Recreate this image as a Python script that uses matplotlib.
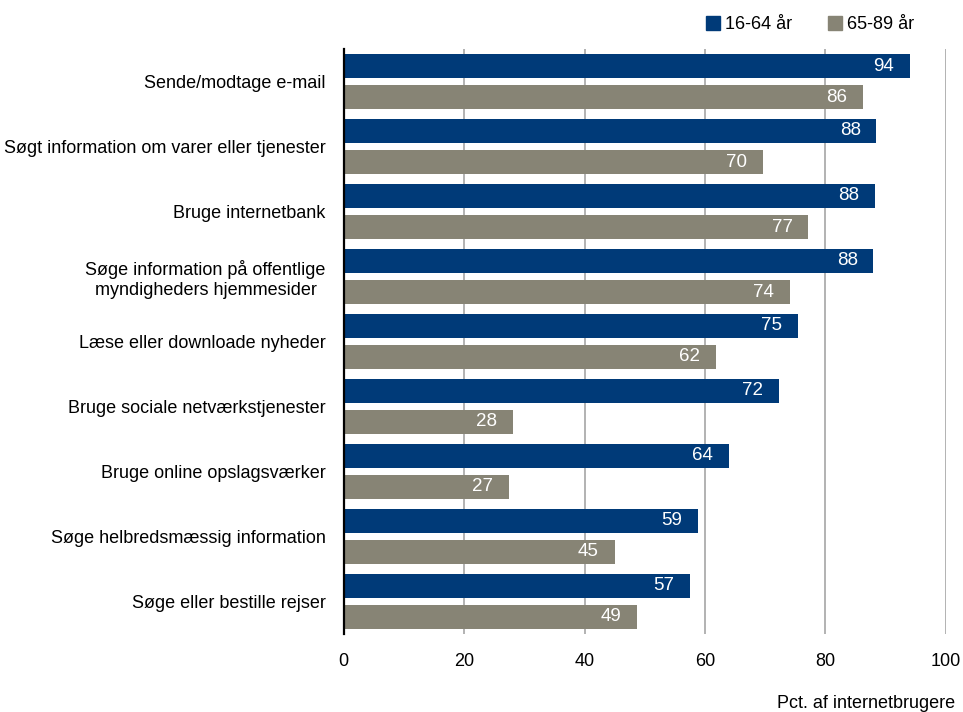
import numpy as np
import matplotlib
matplotlib.use("Agg")
import matplotlib.pyplot as plt
from matplotlib.patches import Patch

categories = [
    "Sende/modtage e-mail",
    "Søgt information om varer eller tjenester",
    "Bruge internetbank",
    "Søge information på offentlige\nmyndigheders hjemmesider",
    "Læse eller downloade nyheder",
    "Bruge sociale netværkstjenester",
    "Bruge online opslagsværker",
    "Søge helbredsmæssig information",
    "Søge eller bestille rejser",
]
young = [94, 88.5, 88.2, 88, 75.4, 72.3, 64, 58.8, 57.5]
old = [86.2, 69.6, 77.2, 74.1, 61.8, 28.1, 27.4, 45, 48.7]
young_labels = ["94", "88", "88", "88", "75", "72", "64", "59", "57"]
old_labels = ["86", "70", "77", "74", "62", "28", "27", "45", "49"]
series_names = ["16-64 år", "65-89 år"]
ticks = [0, 20, 40, 60, 80, 100]

blue = "#003A78"
grey = "#878475"

plt.rcParams['font.family'] = ['Liberation Sans Narrow', 'Liberation Sans', 'DejaVu Sans']

fig = plt.figure(figsize=(9.63, 7.12), dpi=100)
ax = fig.add_axes([0.357, 0.110, 0.625, 0.821])

y = np.arange(len(categories))
h = 0.37
off = 0.24
ax.barh(y - off, young, height=h, color=blue, zorder=3)
ax.barh(y + off, old, height=h, color=grey, zorder=3)

for i in range(len(categories)):
    ax.text(young[i] - 2.6, y[i] - off, young_labels[i], color="white",
            ha="right", va="center", fontsize=13.5, zorder=4)
    ax.text(old[i] - 2.6, y[i] + off, old_labels[i], color="white",
            ha="right", va="center", fontsize=13.5, zorder=4)

ax.set_ylim(len(categories) - 0.5, -0.5)
ax.set_xlim(0, 100)
ax.set_yticks(y)
ax.set_yticklabels(categories, fontsize=13, ha="right", multialignment="center")
ax.set_xticks(ticks)
ax.set_xticklabels([str(t) for t in ticks], fontsize=13)
ax.tick_params(axis="both", length=0)
ax.tick_params(axis="x", pad=14)
ax.tick_params(axis="y", pad=13)

for s in ["top", "right", "bottom"]:
    ax.spines[s].set_visible(False)
ax.spines["left"].set_color("black")
ax.spines["left"].set_linewidth(1.6)
ax.spines["left"].set_zorder(5)

ax.xaxis.grid(True, color="#A6A6A6", linewidth=1.2, zorder=0)
ax.set_axisbelow(True)

handles = [Patch(color=blue, label=series_names[0]),
           Patch(color=grey, label=series_names[1])]
fig.legend(handles=handles, loc="upper right", bbox_to_anchor=(0.966, 1.0),
           ncol=2, frameon=False, fontsize=13, handlelength=0.8, handleheight=0.8,
           handletextpad=0.25, columnspacing=2.0)

fig.text(0.992, 0.0126, "Pct. af internetbrugere", ha="right", va="center", fontsize=13)

fig.savefig("out.png", dpi=100)
